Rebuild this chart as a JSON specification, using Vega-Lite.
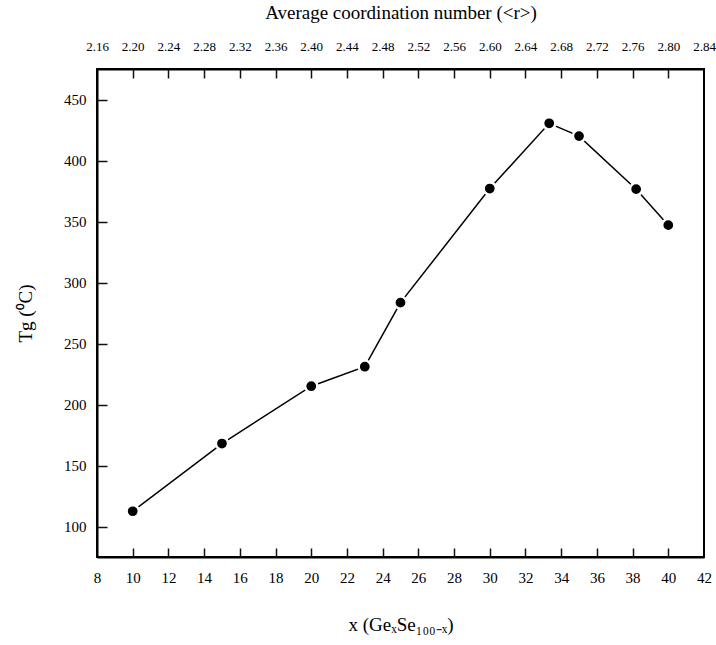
{
  "$schema": "https://vega.github.io/schema/vega-lite/v6.json",
  "width": 607,
  "height": 488,
  "autosize": "none",
  "padding": {"left": 97, "top": 69, "right": 12, "bottom": 88},
  "background": "white",
  "data": {
    "values": [
      {"x": 10, "r": 2.2, "tg": 112.5},
      {"x": 15, "r": 2.3, "tg": 168},
      {"x": 20, "r": 2.4, "tg": 215},
      {"x": 23, "r": 2.46, "tg": 231},
      {"x": 25, "r": 2.5, "tg": 283.5},
      {"x": 30, "r": 2.6, "tg": 377},
      {"x": 33.33, "r": 2.667, "tg": 430.5},
      {"x": 35, "r": 2.7, "tg": 420},
      {"x": 38.2, "r": 2.764, "tg": 376.5},
      {"x": 40, "r": 2.8, "tg": 347}
    ]
  },
  "layer": [
    {
      "mark": {
        "type": "line",
        "color": "black",
        "strokeWidth": 1.5,
        "point": {"filled": true, "color": "black", "size": 150, "stroke": "white", "strokeWidth": 2.5, "opacity": 1}
      },
      "encoding": {
        "x": {
          "field": "x",
          "type": "quantitative",
          "scale": {"domain": [8, 42], "nice": false, "zero": false},
          "axis": {
            "orient": "bottom",
            "title": "x (GeₓSe₁₀₀₋ₓ)",
            "values": [8, 10, 12, 14, 16, 18, 20, 22, 24, 26, 28, 30, 32, 34, 36, 38, 40, 42],
            "ticks": false,
            "labelPadding": 13,
            "titlePadding": 30
          }
        },
        "y": {
          "field": "tg",
          "type": "quantitative",
          "scale": {"domain": [75, 475], "nice": false, "zero": false},
          "axis": {
            "orient": "left",
            "title": "Tg (⁰C)",
            "values": [100, 150, 200, 250, 300, 350, 400, 450],
            "ticks": false,
            "titlePadding": 28,
            "labelPadding": 11
          }
        }
      }
    },
    {
      "mark": {"type": "point", "opacity": 0},
      "encoding": {
        "x": {
          "field": "x",
          "type": "quantitative",
          "scale": {"domain": [8, 42], "nice": false, "zero": false},
          "axis": {
            "orient": "bottom",
            "title": null,
            "labels": false,
            "domain": false,
            "values": [10, 12, 14, 16, 18, 20, 22, 24, 26, 28, 30, 32, 34, 36, 38, 40],
            "ticks": true,
            "tickSize": 9,
            "tickColor": "#111111",
            "tickWidth": 1.5,
            "tickOpacity": 1,
            "offset": -9
          }
        },
        "y": {
          "field": "tg",
          "type": "quantitative",
          "scale": {"domain": [75, 475], "nice": false, "zero": false},
          "axis": {
            "orient": "left",
            "title": null,
            "labels": false,
            "domain": false,
            "values": [100, 150, 200, 250, 300, 350, 400, 450],
            "ticks": true,
            "tickSize": 10,
            "tickColor": "#111111",
            "tickWidth": 1.5,
            "tickOpacity": 1,
            "offset": -10
          }
        }
      }
    },
    {
      "mark": {"type": "point", "opacity": 0},
      "encoding": {
        "x": {
          "field": "r",
          "type": "quantitative",
          "scale": {"domain": [2.16, 2.84], "nice": false, "zero": false},
          "axis": {
            "orient": "top",
            "title": "Average coordination number (<r>)",
            "values": [2.16, 2.2, 2.24, 2.28, 2.32, 2.36, 2.4, 2.44, 2.48, 2.52, 2.56, 2.6, 2.64, 2.68, 2.72, 2.76, 2.8, 2.84],
            "format": ".2f",
            "ticks": false,
            "labelFontSize": 13,
            "labelPadding": 16,
            "titlePadding": 18
          }
        },
        "y": {"field": "tg", "type": "quantitative", "scale": {"domain": [75, 475], "nice": false, "zero": false}, "axis": null}
      }
    },
    {
      "mark": {"type": "point", "opacity": 0},
      "encoding": {
        "x": {
          "field": "r",
          "type": "quantitative",
          "scale": {"domain": [2.16, 2.84], "nice": false, "zero": false},
          "axis": {
            "orient": "top",
            "title": null,
            "labels": false,
            "domain": false,
            "values": [2.2, 2.24, 2.28, 2.32, 2.36, 2.4, 2.44, 2.48, 2.52, 2.56, 2.6, 2.64, 2.68, 2.72, 2.76, 2.8],
            "ticks": true,
            "tickSize": 9,
            "tickColor": "#111111",
            "tickWidth": 1.5,
            "tickOpacity": 1,
            "offset": -9
          }
        },
        "y": {"field": "tg", "type": "quantitative", "scale": {"domain": [75, 475], "nice": false, "zero": false}, "axis": null}
      }
    }
  ],
  "resolve": {"scale": {"x": "independent"}, "axis": {"x": "independent", "y": "independent"}},
  "config": {
    "view": {"stroke": "black", "strokeWidth": 2},
    "font": "Liberation Serif",
    "axis": {
      "grid": false,
      "domainColor": "black",
      "domainWidth": 2,
      "labelFont": "Liberation Serif",
      "labelFontSize": 15,
      "labelColor": "black",
      "titleFont": "Liberation Serif",
      "titleFontSize": 19,
      "titleFontWeight": "normal",
      "titleColor": "black",
      "labelOverlap": false,
      "labelFlush": false
    }
  }
}
